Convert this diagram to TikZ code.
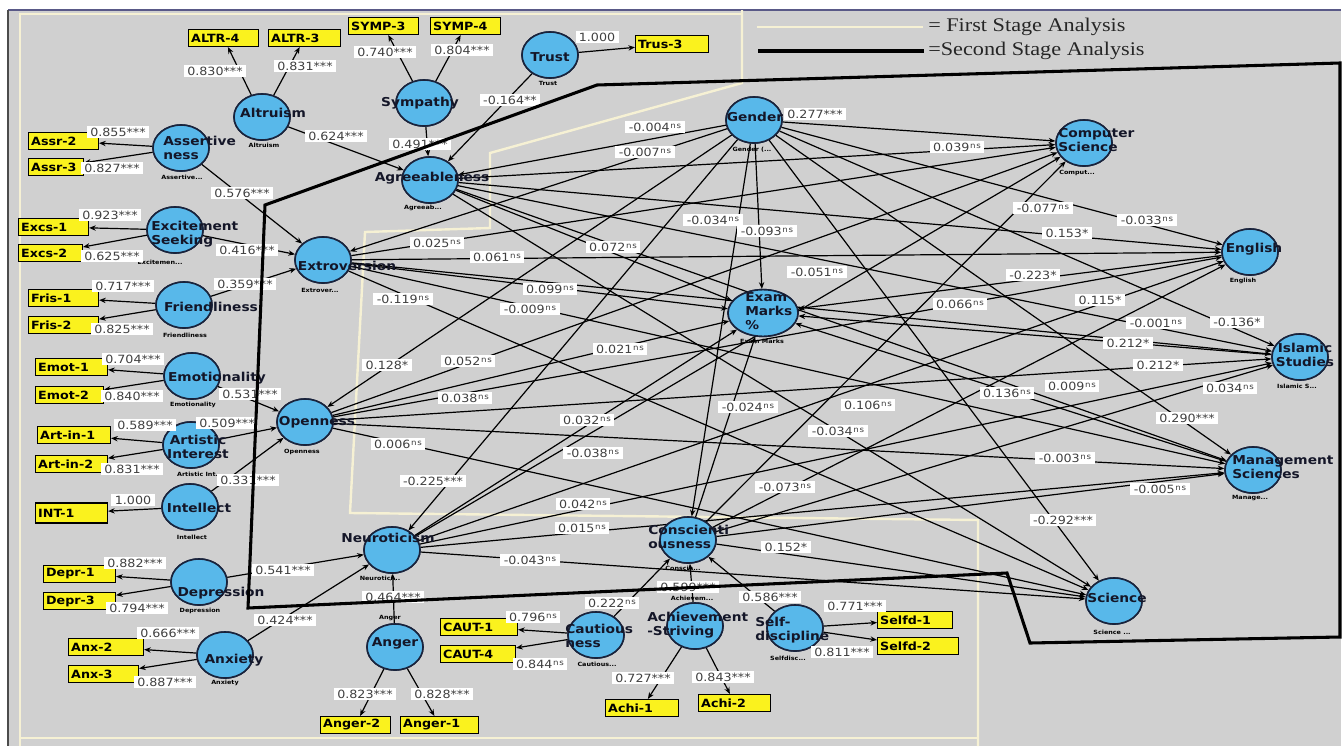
\documentclass[tikz,border=0pt]{standalone}
\usepackage{fontspec}
\setmainfont{DejaVu Sans}[FakeStretch=1.12]
\newfontfamily\legendfont{Liberation Serif}[FakeStretch=1.15]
\usetikzlibrary{shapes.geometric,arrows.meta}
\definecolor{bgray}{RGB}{208,208,208}
\definecolor{cblue}{RGB}{88,184,234}
\definecolor{cedge}{RGB}{25,35,60}
\definecolor{ctext}{RGB}{20,22,40}
\definecolor{iyel}{RGB}{250,242,30}
\definecolor{cream}{RGB}{246,241,212}
\newcommand\myns{\kern0.5pt\raisebox{0.4ex}{\fontsize{5.8}{6}\selectfont n\kern0.6pt s}}
\tikzset{
 lv/.style={ellipse, draw=cedge, line width=1.2pt, fill=cblue, minimum width=42pt, minimum height=34.5pt, inner sep=0pt},
 ct/.style={font=\bfseries\fontsize{9.2}{11}\selectfont, text=ctext, inner sep=0pt, align=left},
 subl/.style={font=\bfseries\fontsize{4.3}{5}\selectfont, text=black, inner sep=0.3pt},
 ind/.style={draw=black, fill=iyel, line width=0.8pt, inner xsep=2pt, inner ysep=0pt, minimum height=12.75pt, font=\bfseries\fontsize{8.5}{9}\selectfont, align=left, anchor=west, text=black},
 lbl/.style={fill=white, inner xsep=2.5pt, inner ysep=1pt, font=\fontsize{8.5}{9}\selectfont, text=black!75},
 arr/.style={draw=black, line width=0.9pt, -{Stealth[length=5pt,width=4pt]}},
 legtxt/.style={font=\legendfont\fontsize{14.5}{16}\selectfont, inner sep=0pt, text=black!85, anchor=west},
}
\begin{document}
\begin{tikzpicture}[x=0.75pt,y=-0.75pt]
\useasboundingbox (0,0) rectangle (1344,746);
\fill[white] (0,0) rectangle (1344,746);
\fill[bgray] (8,10) rectangle (1341,746);
\draw[black!40!blue!30!gray, line width=0.8pt] (8,10) -- (1341,10);
\draw[black!70, line width=1pt] (8,10) -- (8,746);
% first stage (cream) lines
\draw[cream, line width=1.5pt] (20,746) -- (20,14) -- (742,14);
\draw[cream, line width=1.5pt] (20,738) -- (978,738);
\draw[cream, line width=1.8pt] (742,10) -- (742,83) -- (490,153) -- (490,228) -- (365,232) -- (350,513) -- (978,520) -- (978,746);
% legend
\coordinate (lg1a) at (757,27); \coordinate (lg1b) at (923,27);
\coordinate (lg2a) at (758,51); \coordinate (lg2b) at (924,51);
\draw[cream, line width=2.2pt] (lg1a) -- (lg1b);
\draw[black, line width=2.6pt] (lg2a) -- (lg2b);
\node[legtxt] (legt1) at (928,27) {= First Stage Analysis};
\node[legtxt] (legt2) at (928,51) {=Second Stage Analysis};

% latent variables
\node[lv] (altr) at (262,117) {};
\node[lv] (assr) at (181,148) {};
\node[lv] (symp) at (424,103) {};
\node[lv] (trust) at (550,55) {};
\node[lv] (agr) at (430,180) {};
\node[lv] (exc) at (175,230) {};
\node[lv] (ext) at (323,260) {};
\node[lv] (fri) at (184,305) {};
\node[lv] (emo) at (192,376) {};
\node[lv] (ope) at (305,422) {};
\node[lv] (art) at (191,445) {};
\node[lv] (intl) at (190,507) {};
\node[lv] (dep) at (199,582) {};
\node[lv] (anx) at (225,655) {};
\node[lv] (neu) at (392,550) {};
\node[lv] (ang) at (395,647) {};
\node[lv] (gen) at (754,120) {};
\node[lv, minimum width=52.5pt, minimum height=35pt] (exam) at (763,313) {};
\node[lv] (con) at (688,540) {};
\node[lv] (cau) at (596,635) {};
\node[lv] (ach) at (695,626) {};
\node[lv] (sel) at (795,628) {};
\node[lv] (cs) at (1084,143) {};
\node[lv] (eng) at (1250,252) {};
\node[lv] (isl) at (1300,357) {};
\node[lv] (man) at (1253,470) {};
\node[lv] (sci) at (1114,601) {};

% indicators
\node[ind, text width=48.5pt] (altr4) at (188,38) {ALTR-4};
\node[ind, text width=50pt] (altr3) at (268,38) {ALTR-3};
\node[ind, text width=48.5pt] (symp3) at (348,26) {SYMP-3};
\node[ind, text width=48.5pt] (symp4) at (430,26) {SYMP-4};
\node[ind, text width=50.75pt] (trus3) at (635,44) {Trus-3};
\node[ind, text width=48.5pt] (assr2) at (28,141) {Assr-2};
\node[ind, text width=37.25pt] (assr3) at (28,167) {Assr-3};
\node[ind, text width=48.5pt] (excs1) at (18,227) {Excs-1};
\node[ind, text width=44pt] (excs2) at (18,253) {Excs-2};
\node[ind, text width=48.5pt] (fris1) at (28,298) {Fris-1};
\node[ind, text width=48.5pt] (fris2) at (28,325) {Fris-2};
\node[ind, text width=50pt] (emot1) at (35,367) {Emot-1};
\node[ind, text width=47pt] (emot2) at (35,395) {Emot-2};
\node[ind, text width=50.75pt] (artin1) at (37,435) {Art-in-1};
\node[ind, text width=50pt] (artin2) at (35,464) {Art-in-2};
\node[ind, text width=50pt, minimum height=15pt] (int1) at (35,513) {INT-1};
\node[ind, text width=50pt] (depr1) at (43,574) {Depr-1};
\node[ind, text width=50pt] (depr3) at (43,601) {Depr-3};
\node[ind, text width=52.25pt] (anx2) at (68,647) {Anx-2};
\node[ind, text width=48.5pt] (anx3) at (68,674) {Anx-3};
\node[ind, text width=48.5pt] (anger2) at (320,725) {Anger-2};
\node[ind, text width=54.5pt] (anger1) at (400,725) {Anger-1};
\node[ind, text width=53.75pt] (caut1) at (440,627) {CAUT-1};
\node[ind, text width=52.25pt] (caut4) at (440,654) {CAUT-4};
\node[ind, text width=50.75pt] (achi1) at (605,708) {Achi-1};
\node[ind, text width=50pt] (achi2) at (698,703) {Achi-2};
\node[ind, text width=52.25pt] (selfd1) at (877,620) {Selfd-1};
\node[ind, text width=56.75pt] (selfd2) at (877,646) {Selfd-2};

% first stage connectors
\draw[arr] (altr) -- (altr4); \draw[arr] (altr) -- (altr3); \draw[arr] (altr) -- (agr);
\draw[arr] (symp) -- (symp3); \draw[arr] (symp) -- (symp4); \draw[arr] (symp) -- (agr);
\draw[arr] (trust) -- (trus3); \draw[arr] (trust) -- (agr);
\draw[arr] (assr) -- (assr2); \draw[arr] (assr) -- (assr3); \draw[arr] (assr) -- (ext);
\draw[arr] (exc) -- (excs1); \draw[arr] (exc) -- (excs2); \draw[arr] (exc) -- (ext);
\draw[arr] (fri) -- (fris1); \draw[arr] (fri) -- (fris2); \draw[arr] (fri) -- (ext);
\draw[arr] (emo) -- (emot1); \draw[arr] (emo) -- (emot2); \draw[arr] (emo) -- (ope);
\draw[arr] (art) -- (artin1); \draw[arr] (art) -- (artin2); \draw[arr] (art) -- (ope);
\draw[arr] (intl) -- (int1); \draw[arr] (intl) -- (ope);
\draw[arr] (dep) -- (depr1); \draw[arr] (dep) -- (depr3); \draw[arr] (dep) -- (neu);
\draw[arr] (anx) -- (anx2); \draw[arr] (anx) -- (anx3); \draw[arr] (anx) -- (neu);
\draw[arr] (ang) -- (anger2); \draw[arr] (ang) -- (anger1); \draw[arr] (ang) -- (neu);
\draw[arr] (cau) -- (caut1); \draw[arr] (cau) -- (caut4); \draw[arr] (cau) -- (con);
\draw[arr] (ach) -- (achi1); \draw[arr] (ach) -- (achi2); \draw[arr] (ach) -- (con);
\draw[arr] (sel) -- (selfd1); \draw[arr] (sel) -- (selfd2); \draw[arr] (sel) -- (con);

% second stage connectors
\foreach \s in {agr,ext,ope,neu,con,gen}
  \foreach \t in {exam,cs,eng,isl,man,sci}
    \draw[arr] (\s) -- (\t);
\foreach \t in {agr,ext,ope,neu,con} \draw[arr] (gen) -- (\t);
\foreach \s in {eng,isl,man} \draw[arr] (\s) -- (exam);

% redraw circles on top
\foreach \n/\p in {altr/{262,117},assr/{181,148},symp/{424,103},trust/{550,55},agr/{430,180},exc/{175,230},ext/{323,260},fri/{184,305},emo/{192,376},ope/{305,422},art/{191,445},intl/{190,507},dep/{199,582},anx/{225,655},neu/{392,550},ang/{395,647},gen/{754,120},con/{688,540},cau/{596,635},ach/{695,626},sel/{795,628},cs/{1084,143},eng/{1250,252},isl/{1300,357},man/{1253,470},sci/{1114,601}}
  \node[lv] (\n C) at (\p) {};
\node[lv, minimum width=52.5pt, minimum height=35pt] (examC) at (763,313) {};

% circle texts
\node[ct] (altrT) at (273,113) {Altruism};
\node[ct, anchor=west] (assrT) at (163,148) {Assertive\\ness};
\node[ct] (sympT) at (420,103) {Sympathy};
\node[ct] (trustT) at (550,57) {Trust};
\node[ct] (agrT) at (432,178) {Agreeableness};
\node[ct, anchor=west] (excT) at (151,234) {Excitement\\Seeking};
\node[ct] (extT) at (347,266) {Extroversion};
\node[ct] (friT) at (211,307) {Friendliness};
\node[ct] (emoT) at (217,378) {Emotionality};
\node[ct] (opeT) at (317,422) {Openness};
\node[ct, align=center] (artT) at (198,447) {Artistic\\Interest};
\node[ct] (intT) at (199,508) {Intellect};
\node[ct] (depT) at (221,593) {Depression};
\node[ct] (anxT) at (234,660) {Anxiety};
\node[ct] (neuT) at (388,538) {Neuroticism};
\node[ct] (angT) at (395,643) {Anger};
\node[ct] (genT) at (755,117) {Gender};
\node[ct, anchor=west] (csT) at (1058,140) {Computer\\Science};
\node[ct] (engT) at (1254,249) {English};
\node[ct, align=center] (islT) at (1305,355) {Islamic\\Studies};
\node[ct, anchor=west] (manT) at (1232,467) {Management\\Sciences};
\node[ct] (sciT) at (1117,598) {Science};
\node[ct, anchor=west, font=\bfseries\fontsize{9.2}{10.5}\selectfont] (examT) at (745,311) {Exam\\Marks\\\%};
\node[ct, anchor=west] (conT) at (648,537) {Conscienti\\ousness};
\node[ct, anchor=west] (cauT) at (565,636) {Cautious\\ness};
\node[ct, anchor=west] (achT) at (647,625) {Achievement\\-Striving};
\node[ct, anchor=west] (selT) at (755,630) {Self-\\discipline};

% small name labels
\node[subl] (altrS) at (264,145) {Altruism};
\node[subl] (assrS) at (182,177) {Assertive...};
\node[subl] (trustS) at (548,83) {Trust};
\node[subl] (agrS) at (423,208) {Agreeab...};
\node[subl] (excS) at (160,262) {Excitemen...};
\node[subl] (extS) at (320,290) {Extrover...};
\node[subl] (friS) at (185,335) {Friendliness};
\node[subl] (emoS) at (193,405) {Emotionality};
\node[subl] (opeS) at (302,452) {Openness};
\node[subl] (artS) at (200,474) {Artistic Int...};
\node[subl] (intS) at (192,537) {Intellect};
\node[subl] (depS) at (200,611) {Depression};
\node[subl] (anxS) at (225,683) {Anxiety};
\node[subl] (neuS) at (380,578) {Neurotici...};
\node[subl] (angS) at (390,618) {Anger};
\node[subl] (genS) at (752,150) {Gender (...};
\node[subl] (csS) at (1077,173) {Comput...};
\node[subl] (engS) at (1243,281) {English};
\node[subl] (islS) at (1297,386) {Islamic S...};
\node[subl] (manS) at (1250,498) {Manage...};
\node[subl] (sciS) at (1112,632) {Science ...};
\node[subl] (examS) at (762,341) {Exam Marks};
\node[subl] (conS) at (683,568) {Conscie...};
\node[subl] (achS) at (692,598) {Achievem...};
\node[subl] (cauS) at (597,664) {Cautious...};
\node[subl] (selS) at (788,658) {Selfdisc...};

% first stage labels
\node[lbl] (f1) at (215,71) {0.830***};
\node[lbl] (f2) at (305,66) {0.831***};
\node[lbl] (f3) at (385,52) {0.740***};
\node[lbl] (f4) at (462,50) {0.804***};
\node[lbl] (f5) at (597,37) {1.000};
\node[lbl] (f6) at (510,100) {-0.164**};
\node[lbl] (f7) at (336,136) {0.624***};
\node[lbl] (f8) at (420,144) {0.491***};
\node[lbl] (f9) at (118,132) {0.855***};
\node[lbl] (f10) at (112,168) {0.827***};
\node[lbl] (f11) at (242,193) {0.576***};
\node[lbl] (f12) at (110,215) {0.923***};
\node[lbl] (f13) at (112,256) {0.625***};
\node[lbl] (f14) at (247,250) {0.416***};
\node[lbl] (f15) at (245,284) {0.359***};
\node[lbl] (f16) at (123,286) {0.717***};
\node[lbl] (f17) at (122,329) {0.825***};
\node[lbl] (f18) at (133,359) {0.704***};
\node[lbl] (f19) at (132,396) {0.840***};
\node[lbl] (f20) at (250,394) {0.531***};
\node[lbl] (f21) at (145,425) {0.589***};
\node[lbl] (f22) at (227,423) {0.509***};
\node[lbl] (f23) at (132,469) {0.831***};
\node[lbl] (f24) at (248,480) {0.331***};
\node[lbl] (f25) at (133,500) {1.000};
\node[lbl] (f26) at (135,563) {0.882***};
\node[lbl] (f27) at (137,608) {0.794***};
\node[lbl] (f28) at (283,570) {0.541***};
\node[lbl] (f29) at (285,620) {0.424***};
\node[lbl] (f30) at (168,633) {0.666***};
\node[lbl] (f31) at (165,682) {0.887***};
\node[lbl] (f32) at (393,597) {0.464***};
\node[lbl] (f33) at (365,694) {0.823***};
\node[lbl] (f34) at (442,694) {0.828***};
\node[lbl] (f35) at (533,617) {0.796\myns};
\node[lbl] (f36) at (540,664) {0.844\myns};
\node[lbl] (f37) at (612,603) {0.222\myns};
\node[lbl] (f38) at (688,587) {0.599***};
\node[lbl] (f39) at (770,597) {0.586***};
\node[lbl] (f40) at (855,606) {0.771***};
\node[lbl] (f41) at (842,652) {0.811***};
\node[lbl] (f42) at (643,678) {0.727***};
\node[lbl] (f43) at (723,677) {0.843***};

% second stage labels
\node[lbl] (e1) at (655,127) {-0.004\myns};
\node[lbl] (e2) at (645,152) {-0.007\myns};
\node[lbl] (e3) at (815,114) {0.277***};
\node[lbl] (e4) at (957,147) {0.039\myns};
\node[lbl] (e5) at (713,220) {-0.034\myns};
\node[lbl] (e6) at (767,231) {-0.093\myns};
\node[lbl] (e7) at (1043,208) {-0.077\myns};
\node[lbl] (e8) at (1147,220) {-0.033\myns};
\node[lbl] (e9) at (1067,233) {0.153*};
\node[lbl] (e10) at (437,243) {0.025\myns};
\node[lbl] (e11) at (497,257) {0.061\myns};
\node[lbl] (e12) at (613,247) {0.072\myns};
\node[lbl] (e13) at (817,272) {-0.051\myns};
\node[lbl] (e14) at (1033,275) {-0.223*};
\node[lbl] (e15) at (550,289) {0.099\myns};
\node[lbl] (e16) at (530,309) {-0.009\myns};
\node[lbl] (e17) at (403,299) {-0.119\myns};
\node[lbl] (e18) at (960,304) {0.066\myns};
\node[lbl] (e19) at (1100,300) {0.115*};
\node[lbl] (e20) at (1156,323) {-0.001\myns};
\node[lbl] (e21) at (1237,322) {-0.136*};
\node[lbl] (e22) at (1128,343) {0.212*};
\node[lbl] (e23) at (1158,365) {0.212*};
\node[lbl] (e24) at (387,365) {0.128*};
\node[lbl] (e25) at (468,361) {0.052\myns};
\node[lbl] (e26) at (620,349) {0.021\myns};
\node[lbl] (e27) at (1072,386) {0.009\myns};
\node[lbl] (e28) at (1007,393) {0.136\myns};
\node[lbl] (e29) at (1230,388) {0.034\myns};
\node[lbl] (e30) at (465,398) {0.038\myns};
\node[lbl] (e31) at (748,407) {-0.024\myns};
\node[lbl] (e32) at (868,405) {0.106\myns};
\node[lbl] (e33) at (1187,418) {0.290***};
\node[lbl] (e34) at (838,431) {-0.034\myns};
\node[lbl] (e35) at (398,444) {0.006\myns};
\node[lbl] (e36) at (587,420) {0.032\myns};
\node[lbl] (e37) at (593,453) {-0.038\myns};
\node[lbl] (e38) at (1065,458) {-0.003\myns};
\node[lbl] (e39) at (1160,489) {-0.005\myns};
\node[lbl] (e40) at (433,481) {-0.225***};
\node[lbl] (e41) at (785,487) {-0.073\myns};
\node[lbl] (e42) at (583,504) {0.042\myns};
\node[lbl] (e43) at (582,528) {0.015\myns};
\node[lbl] (e44) at (786,547) {0.152*};
\node[lbl] (e45) at (1063,520) {-0.292***};
\node[lbl] (e46) at (530,560) {-0.043\myns};

% second stage boundary
\draw[black, line width=2.3pt, line join=miter] (265,205) -- (597,85) -- (1340,63) -- (1340,637) -- (1030,643) -- (1007,573) -- (248,608) -- cycle;
\end{tikzpicture}
\end{document}
